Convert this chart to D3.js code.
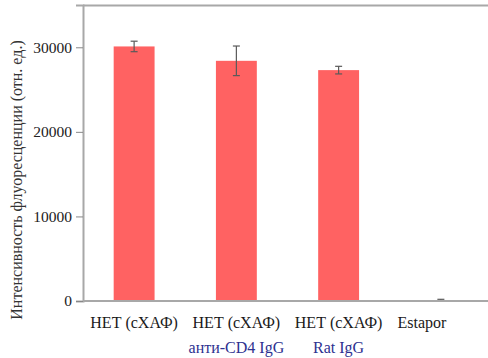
<!DOCTYPE html>
<html>
<head>
<meta charset="utf-8">
<script src="https://cdn.jsdelivr.net/npm/d3@7"></script>
<style>
  html, body { margin: 0; padding: 0; background: #fff; }
  svg { display: block; }
  svg text { font-family: "Liberation Serif", "Times New Roman", serif !important; }
</style>
</head>
<body>
<svg id="chart" width="488" height="358"></svg>
<script>
// Fluorescence intensity per sample group
const categories = ["g1", "g2", "g3", "g4"];
const labelLine1 = ["НЕТ (сХАФ)", "НЕТ (сХАФ)", "НЕТ (сХАФ)", "Estapor"];
const labelLine2 = ["", "анти-CD4 IgG", "Rat IgG", ""];
const values = [30100, 28400, 27300, 80];
const errors = [620, 1750, 450, 120];
const yTicks = [0, 10000, 20000, 30000];
const yTitle = "Интенсивность флуоресценции (отн. ед.)";

const svg = d3.select("#chart");
const m = { left: 83, right: 492, top: 5, bottom: 301 };

const x = d3.scaleBand()
  .domain(categories)
  .range([m.left, m.right])
  .paddingInner(0.6)
  .paddingOuter(0.3);

const y = d3.scaleLinear().domain([0, 35000]).range([m.bottom, m.top]);

// frame: top border
svg.append("line")
  .attr("x1", m.left).attr("x2", 488)
  .attr("y1", m.top + 0.5).attr("y2", m.top + 0.5)
  .attr("stroke", "#a8a8a8").attr("stroke-width", 2);

// bars
svg.append("g").selectAll("rect")
  .data(categories)
  .join("rect")
  .attr("x", d => x(d))
  .attr("width", x.bandwidth())
  .attr("y", (d, i) => y(values[i]))
  .attr("height", (d, i) => y(0) - y(values[i]))
  .attr("fill", "#ff6262");

// error bars
const eb = svg.append("g")
  .attr("stroke", "#5a5a5a").attr("stroke-width", 1.2).attr("fill", "none");
categories.forEach((c, i) => {
  const cx = x(c) + x.bandwidth() / 2;
  const y1 = y(values[i] + errors[i]);
  const y2 = y(Math.max(0, values[i] - errors[i]));
  eb.append("line").attr("x1", cx).attr("x2", cx).attr("y1", y1).attr("y2", y2);
  eb.append("line").attr("x1", cx - 3.5).attr("x2", cx + 3.5).attr("y1", y1).attr("y2", y1);
  eb.append("line").attr("x1", cx - 3.5).attr("x2", cx + 3.5).attr("y1", y2).attr("y2", y2);
});

// y axis
const yAxis = svg.append("g")
  .attr("transform", `translate(${m.left},0)`)
  .call(d3.axisLeft(y).tickValues(yTicks).tickSize(7).tickPadding(4).tickFormat(d3.format("d")));
yAxis.attr("font-family", null);
yAxis.select(".domain").attr("stroke", "#a8a8a8").attr("stroke-width", 2);
yAxis.selectAll(".tick line").attr("stroke", "#888");
yAxis.selectAll(".tick text")
  .attr("font-size", 15.5).attr("fill", "#222");

// x axis baseline
svg.append("line")
  .attr("x1", m.left).attr("x2", 488)
  .attr("y1", m.bottom).attr("y2", m.bottom)
  .attr("stroke", "#a8a8a8").attr("stroke-width", 2);

// category labels
const labelShift = [0, 0, 0, -19];
const lab = svg.append("g").attr("text-anchor", "middle").attr("font-size", 16);
categories.forEach((c, i) => {
  const cx = x(c) + x.bandwidth() / 2 + labelShift[i];
  lab.append("text").attr("x", cx).attr("y", 328).attr("fill", "#1a1a1a").text(labelLine1[i]);
  if (labelLine2[i]) {
    lab.append("text").attr("x", cx).attr("y", 353).attr("fill", "#2d3190").text(labelLine2[i]);
  }
});

// y title
svg.append("text")
  .attr("transform", "translate(22,180) rotate(-90)")
  .attr("text-anchor", "middle")
  .attr("font-size", 16)
  .attr("fill", "#333")
  .text(yTitle);
</script>
</body>
</html>
